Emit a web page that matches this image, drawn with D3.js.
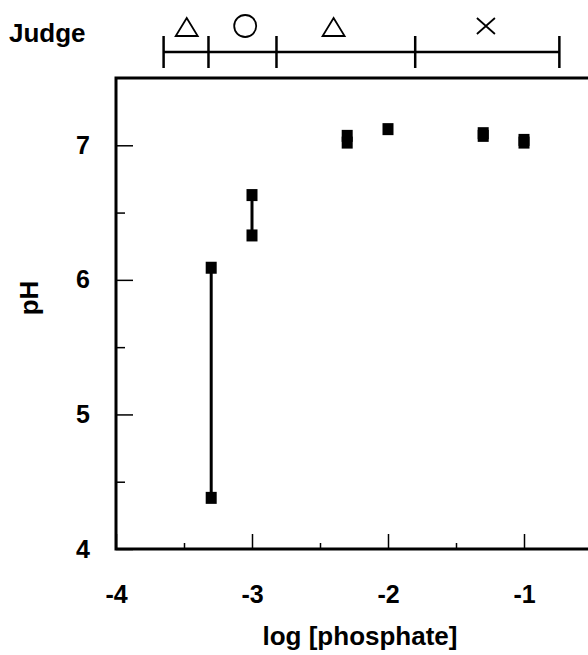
<!DOCTYPE html>
<html>
<head>
<meta charset="utf-8">
<script src="https://cdn.jsdelivr.net/npm/d3@7"></script>
<style>
  html, body { margin: 0; padding: 0; background: #fff; }
  svg { display: block; }
  text { font-family: "Liberation Sans", Arial, sans-serif; fill: #000; }
</style>
</head>
<body>
<div id="chart"></div>
<script>
(function() {
  'use strict';

  // measured points (log phosphate vs pH)
  const logP = [-3.3, -3.3, -3, -3, -2.3, -2.3, -2, -1.3, -1.3, -1, -1];
  const pH = [6.09, 4.38, 6.63, 6.33, 7.07, 7.02, 7.12, 7.09, 7.07, 7.04, 7.02];

  // vertical range bars
  const rangeX = [-3.3, -3];
  const rangeLow = [4.38, 6.33];
  const rangeHigh = [6.09, 6.63];

  // judge bar above the plot
  const judgeBounds = [-3.65, -3.32, -2.82, -1.8, -0.74];
  const judgeMarks = ['triangle', 'circle', 'triangle', 'cross'];
  const judgeMarkX = [-3.48, -3.05, -2.4, -1.28];

  const xMajor = [-4, -3, -2, -1];
  const xMinor = [-3.5, -2.5, -1.5, -0.5];
  const yMajor = [4, 5, 6, 7];
  const yMinor = [4.5, 5.5, 6.5];

  const width = 588, height = 655;
  const left = 116, bottom = 549, top = 78;

  const svg = d3.select('#chart').append('svg')
    .attr('width', width)
    .attr('height', height);

  const x = d3.scaleLinear().domain([-4, 0]).range([left, left + 4 * 136]);
  const y = d3.scaleLinear().domain([4, 7.5]).range([bottom, top]);

  // plain hyphen minus, like the original
  const fmt = d => String(d);

  // x axis: inward ticks
  svg.append('g')
    .attr('transform', 'translate(0,' + bottom + ')')
    .call(d3.axisBottom(x).tickValues(xMajor).tickSize(-15).tickPadding(36)
      .tickFormat(fmt));
  svg.append('g')
    .attr('transform', 'translate(0,' + bottom + ')')
    .call(d3.axisBottom(x).tickValues(xMinor).tickSize(-6).tickFormat(''));

  // y axis
  svg.append('g')
    .attr('transform', 'translate(' + left + ',0)')
    .call(d3.axisLeft(y).tickValues(yMajor).tickSize(-17).tickPadding(26)
      .tickFormat(fmt));
  svg.append('g')
    .attr('transform', 'translate(' + left + ',0)')
    .call(d3.axisLeft(y).tickValues(yMinor).tickSize(-9).tickFormat(''));

  svg.selectAll('.domain').remove();
  svg.selectAll('.tick line').attr('stroke', '#000').attr('stroke-width', 1.5);
  svg.selectAll('.tick text')
    .style('font-size', '25px')
    .style('font-weight', 'bold')
    .style('font-family', '"Liberation Sans", Arial, sans-serif');

  // frame: left, bottom, top (right edge is off the page)
  svg.append('path')
    .attr('d', 'M' + width + ',' + top + 'H' + left + 'V' + bottom + 'H' + width)
    .attr('fill', 'none')
    .attr('stroke', '#000')
    .attr('stroke-width', 3);

  // range bars
  svg.append('g').selectAll('line')
    .data(rangeX)
    .enter()
    .append('line')
    .attr('x1', d => x(d))
    .attr('x2', d => x(d))
    .attr('y1', (d, i) => y(rangeLow[i]))
    .attr('y2', (d, i) => y(rangeHigh[i]))
    .attr('stroke', '#000')
    .attr('stroke-width', 3);

  // square markers
  svg.append('g').selectAll('rect')
    .data(logP)
    .enter()
    .append('rect')
    .attr('x', d => x(d) - 5.5)
    .attr('y', (d, i) => y(pH[i]) - 6)
    .attr('width', 11)
    .attr('height', 12)
    .attr('fill', '#000');

  // judge bar
  const jy = 52;
  const judge = svg.append('g');
  judge.append('line')
    .attr('x1', x(judgeBounds[0]))
    .attr('x2', x(judgeBounds[judgeBounds.length - 1]))
    .attr('y1', jy).attr('y2', jy)
    .attr('stroke', '#000').attr('stroke-width', 2.5);
  judge.selectAll('.jtick')
    .data(judgeBounds)
    .enter()
    .append('line')
    .attr('class', 'jtick')
    .attr('x1', d => x(d)).attr('x2', d => x(d))
    .attr('y1', jy - 16).attr('y2', jy + 16)
    .attr('stroke', '#000').attr('stroke-width', 2.5);

  judge.selectAll('.jmark')
    .data(judgeMarks)
    .enter()
    .append('path')
    .attr('class', 'jmark')
    .attr('transform', (d, i) => 'translate(' + x(judgeMarkX[i]) + ',' + (d === 'triangle' ? 27 : 26) + ')')
    .attr('d', function(d) {
      if (d === 'triangle') return 'M0,-9L11,9L-11,9Z';
      if (d === 'circle') return 'M11,0A11,11 0 1,1 -11,0A11,11 0 1,1 11,0Z';
      return 'M-9,-8L9,8M9,-8L-9,8';
    })
    .attr('fill', 'none')
    .attr('stroke', '#000')
    .attr('stroke-width', 1.8);

  svg.append('text')
    .attr('x', 9)
    .attr('y', 42)
    .style('font-size', '26px')
    .style('font-weight', 'bold')
    .text('Judge');

  // axis titles
  svg.append('text')
    .attr('x', 360)
    .attr('y', 645)
    .attr('text-anchor', 'middle')
    .style('font-size', '26px')
    .style('font-weight', 'bold')
    .text('log [phosphate]');

  svg.append('text')
    .attr('transform', 'translate(38,298) rotate(-90)')
    .attr('text-anchor', 'middle')
    .style('font-size', '26px')
    .style('font-weight', 'bold')
    .text('pH');
})();
</script>
</body>
</html>
